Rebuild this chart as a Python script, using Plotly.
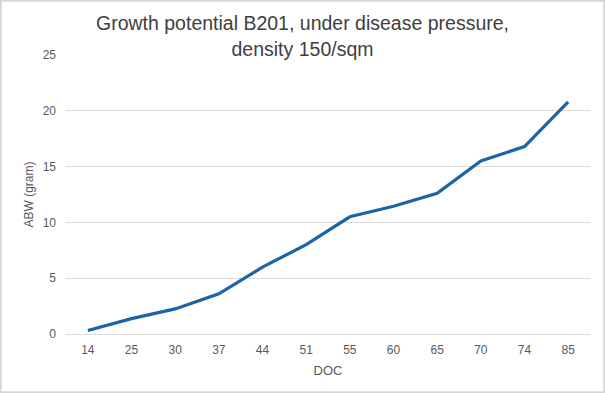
import plotly.graph_objects as go

doc = ["14", "25", "30", "37", "44", "51", "55", "60", "65", "70", "74", "85"]
abw = [0.32, 1.38, 2.25, 3.6, 6.0, 8.0, 10.5, 11.45, 12.6, 15.5, 16.8, 20.8]
y_ticks = [0, 5, 10, 15, 20, 25]

fig = go.Figure()
fig.add_trace(go.Scatter(x=doc, y=abw, mode="lines",
                         line=dict(color="#1B65A6", width=3.2),
                         showlegend=False))

fig.update_layout(
    width=605, height=393,
    margin=dict(l=66, r=15, t=55, b=59),
    paper_bgcolor="white", plot_bgcolor="white",
    font=dict(family="Liberation Sans, Arial, sans-serif", color="#595959", size=12),
    title=dict(text="Growth potential B201, under disease pressure,<br>density 150/sqm",
               x=0.5, xanchor="center", y=0.923, yanchor="top",
               font=dict(size=19.5, color="#404040")),
    xaxis=dict(type="category", range=[-0.5, len(doc) - 0.5], showgrid=False,
               showline=True, linecolor="#D9D9D9",
               linewidth=1, ticks="", tickfont=dict(size=12, color="#595959"),
               ticklabelstandoff=5,
               title=dict(text="DOC", font=dict(size=13, color="#595959"), standoff=9)),
    yaxis=dict(range=[0, 25], tickvals=y_ticks, showgrid=True, gridcolor="#D9D9D9",
               gridwidth=1, zeroline=False, showline=False, ticks="",
               tickfont=dict(size=12, color="#595959"), ticklabelstandoff=9,
               title=dict(text="ABW (gram)", font=dict(size=12, color="#595959"), standoff=6)),
)
fig.add_shape(type="rect", xref="paper", yref="paper", x0=-66/524, x1=1 + 15/524,
              y0=-59/279, y1=1 + 55/279, line=dict(color="#D6D6D6", width=3.5),
              layer="below")
fig.write_html("out.html", config={"displayModeBar": False},
               post_script="document.body.style.margin='0';")
